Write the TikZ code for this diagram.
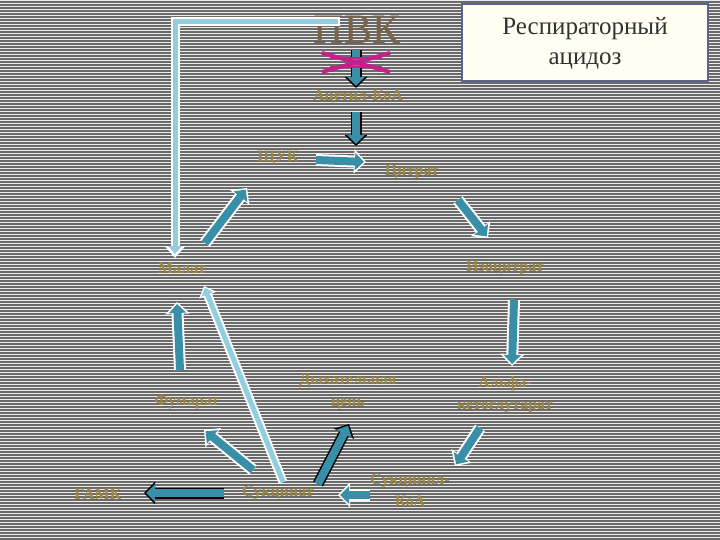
\documentclass[tikz,border=0pt]{standalone}
\usepackage{fontspec}
\setmainfont{Liberation Serif}
\usetikzlibrary{arrows.meta}
\definecolor{txt}{HTML}{9C8642}
\definecolor{teal}{HTML}{3A8FA8}
\definecolor{lblue}{HTML}{8FCFE0}
\definecolor{bgg}{HTML}{6A6A6A}
\definecolor{pink}{RGB}{200,30,140}
\definecolor{boxborder}{RGB}{90,100,140}
\definecolor{boxfill}{RGB}{255,254,242}
\definecolor{titletxt}{RGB}{50,50,50}
\definecolor{pvkc}{RGB}{120,100,75}
\tikzset{
 lbl/.style={text=txt,font=\bfseries\fontsize{16}{22}\selectfont,align=center},
 bw/.style={draw=white,line width=12pt,-{Triangle[width=24pt,length=12pt]}},
 bt/.style={draw=teal,line width=8pt,shorten >=2pt,-{Triangle[width=17pt,length=9pt]}},
 bk/.style={draw=black,line width=11pt,-{Triangle[width=22pt,length=11pt]}},
 lb/.style={draw=white,line width=9pt,-{Triangle[width=18pt,length=10pt]}},
 lbi/.style={draw=lblue,line width=5pt,shorten >=2pt,-{Triangle[width=12pt,length=7pt]}},
}
\newcommand\warr[2]{\draw[bw] (#1) -- (#2); \draw[bt] (#1) -- (#2);}
\newcommand\karr[2]{\draw[bk] (#1) -- (#2); \draw[bt] (#1) -- (#2);}
\begin{document}
\begin{tikzpicture}[x=1pt,y=-1pt]
\useasboundingbox (0,0) rectangle (720,540);
\fill[bgg] (0,0) rectangle (720,540);
\foreach \i in {0,...,179} {\fill[white!85!gray] (0,3*\i) rectangle (720,3*\i+1.2);}
% title
\node[draw=boxborder,line width=2pt,fill=boxfill,minimum width=246pt,minimum height=77pt,align=center,font=\fontsize{25}{30}\selectfont,text=titletxt] (title) at (585,43) {Респираторный\\ацидоз};
\node[text=pvkc,font=\fontsize{42}{44}\selectfont] (pvk) at (357,30) {ПВК};
\node[lbl] (acoa) at (358,97) {Ацетил-КоА};
\node[lbl] (shuk) at (278,158) {ЩУК};
\node[lbl] (cit) at (412,172) {Цитрат};
\node[lbl] (iso) at (505,268) {Изоцитрат};
\node[lbl] (mal) at (182,268) {Малат};
\node[lbl] (akg) at (505,395) {Альфа-\\кетоглутарат};
\node[lbl] (scoa) at (410,490) {Сукцинил-\\КоА};
\node[lbl] (succ) at (278,493) {Сукцинат};
\node[lbl] (gaba) at (98,494) {ГАМК};
\node[lbl] (fum) at (187,402) {Фумарат};
\node[lbl] (resp) at (348,392) {Дыхательная\\цепь};
% coordinates
\coordinate (a1) at (356,50); \coordinate (a2) at (356,88);
\coordinate (b1) at (356,112); \coordinate (b2) at (356,146);
\coordinate (c1) at (316,160); \coordinate (c2) at (366,162);
\coordinate (d1) at (205,243); \coordinate (d2) at (247,188);
\coordinate (e1) at (458,200); \coordinate (e2) at (488,238);
\coordinate (f1) at (514,300); \coordinate (f2) at (512,366);
\coordinate (g1) at (480,428); \coordinate (g2) at (455,466);
\coordinate (h1) at (370,495); \coordinate (h2) at (338,495);
\coordinate (i1) at (253,470); \coordinate (i2) at (204,430);
\coordinate (j1) at (180,370); \coordinate (j2) at (177,302);
\coordinate (k1) at (318,484); \coordinate (k2) at (349,424);
\coordinate (l1) at (224,493); \coordinate (l2) at (144,493);
% light blue lines
\draw[draw=white,line width=9pt] (340,22) -- (175,22) -- (175,240);
\draw[draw=white,line width=9pt,-{Triangle[width=20pt,length=12pt]}] (175,235) -- (175,258);
\draw[draw=lblue,line width=5pt,line join=miter] (338,22) -- (175,22) -- (175,245);
\draw[draw=lblue,line width=5pt,-{Triangle[width=13pt,length=8pt]}] (175,240) -- (175,254);
\draw[lb] (283,482) -- (204,286);
\draw[lbi] (283,482) -- (204,286);
% arrows
\karr{a1}{a2}
\karr{b1}{b2}
\warr{c1}{c2}
\warr{d1}{d2}
\warr{e1}{e2}
\warr{f1}{f2}
\warr{g1}{g2}
\warr{h1}{h2}
\warr{i1}{i2}
\warr{j1}{j2}
\karr{k1}{k2}
\karr{l1}{l2}
% pink cross
\draw[pink,line width=4pt] (322,53) -- (390,72) (322,72) -- (390,53);
\draw[pink,line width=2.5pt] (330,58)--(382,58) (330,67)--(382,67);
\end{tikzpicture}
\end{document}
